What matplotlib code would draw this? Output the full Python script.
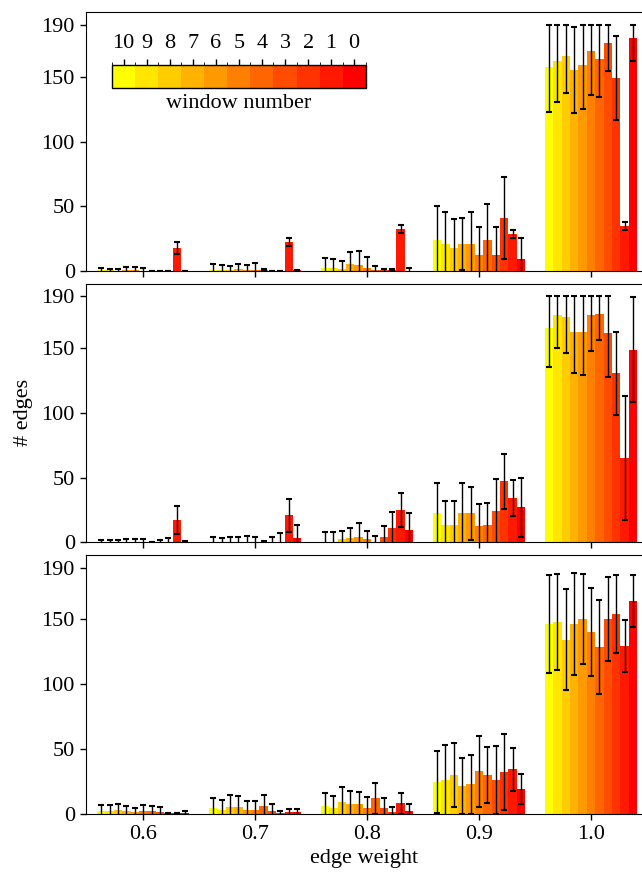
import numpy as np
import matplotlib
matplotlib.use("Agg")
import matplotlib.pyplot as plt
from matplotlib.colors import ListedColormap, BoundaryNorm
from matplotlib.cm import ScalarMappable

plt.rcParams['font.family'] = ['Liberation Serif', 'DejaVu Serif']
plt.rcParams['font.size'] = 16

# edge weight bins and windows (left to right in each group: window 10 ... 0)
bins = [0.6, 0.7, 0.8, 0.9, 1.0]
windows = [10, 9, 8, 7, 6, 5, 4, 3, 2, 1, 0]
err_max = 190

# top panel: mean number of edges per bin and window, plus spread
top_counts = [
    [0.5, 0.5, 0.3, 0.8, 0.5, 0.3, 0.1, 0.1, 0.1, 17.8, 0.1],
    [0.8, 1.0, 1.0, 1.3, 1.0, 1.0, 1.0, 0.2, 0.2, 22.4, 0.5],
    [2.0, 2.0, 1.5, 5.4, 4.6, 2.3, 1.0, 0.5, 0.5, 32.5, 0.3],
    [24.0, 20.9, 17.8, 20.9, 20.9, 12.4, 24.0, 12.4, 41.0, 28.6, 9.3],
    [158.0, 162.4, 166.2, 155.4, 159.5, 170.0, 164.2, 176.3, 149.2, 34.8, 180.2],
]
top_std = [
    [2.1, 1.3, 1.5, 2.6, 2.6, 2.3, 0.3, 0.3, 0.3, 4.6, 0.3],
    [4.9, 3.9, 2.6, 4.4, 3.9, 5.4, 0.5, 0.2, 0.2, 3.0, 0.5],
    [8.3, 7.5, 6.0, 9.3, 10.9, 8.3, 3.1, 1.0, 0.8, 2.9, 2.3],
    [26.3, 24.7, 22.1, 20.3, 24.7, 21.9, 27.8, 21.9, 32.0, 3.2, 16.0],
    [34.8, 31.5, 28.3, 33.0, 34.0, 33.7, 29.4, 21.9, 32.3, 3.2, 18.1],
]

# middle panel
mid_counts = [
    [0.3, 0.3, 0.3, 0.3, 0.3, 0.3, 0.2, 0.3, 0.5, 17.0, 0.3],
    [0.3, 0.3, 0.3, 0.3, 0.3, 0.3, 0.3, 0.3, 0.5, 20.8, 3.6],
    [0.5, 0.5, 2.3, 3.1, 3.9, 2.3, 0.5, 3.9, 10.8, 24.7, 9.3],
    [22.4, 13.1, 13.1, 22.4, 22.4, 12.4, 13.1, 24.2, 47.1, 34.0, 27.0],
    [165.3, 175.3, 174.5, 162.9, 162.2, 175.3, 176.1, 161.4, 130.5, 64.9, 149.0],
]
mid_std = [
    [1.2, 1.2, 1.7, 2.3, 2.3, 2.0, 0.1, 1.2, 2.8, 10.8, 1.0],
    [3.6, 2.8, 3.8, 4.1, 4.3, 3.8, 0.7, 3.6, 6.7, 12.6, 9.8],
    [7.5, 7.2, 6.5, 7.7, 11.3, 6.7, 4.4, 8.7, 12.6, 13.1, 13.6],
    [23.4, 18.8, 19.1, 23.7, 20.6, 17.2, 17.5, 24.7, 21.5, 13.9, 22.9],
    [29.7, 25.5, 28.3, 32.1, 33.2, 27.8, 20.1, 33.7, 32.0, 47.8, 40.9],
]

# bottom panel
bot_counts = [
    [1.8, 1.8, 2.6, 1.8, 1.0, 1.8, 1.8, 1.0, 0.5, 0.5, 0.5],
    [4.1, 2.6, 4.9, 4.9, 2.6, 2.6, 5.7, 1.8, 0.2, 1.0, 1.0],
    [5.7, 4.1, 8.8, 7.2, 7.2, 4.1, 11.9, 4.1, 1.0, 8.0, 1.8],
    [24.3, 25.8, 29.7, 21.2, 22.7, 32.8, 29.7, 25.8, 32.0, 34.3, 18.8],
    [146.6, 148.1, 134.2, 146.6, 150.5, 140.4, 128.8, 150.5, 154.3, 129.5, 164.4],
]
bot_std = [
    [4.7, 4.7, 4.9, 3.9, 3.4, 4.7, 3.9, 3.9, 0.3, 0.3, 1.3],
    [8.0, 7.7, 9.3, 8.8, 7.5, 7.2, 9.0, 5.7, 1.9, 2.6, 2.6],
    [10.6, 9.3, 11.8, 10.1, 9.6, 8.5, 12.1, 8.0, 4.4, 8.3, 5.7],
    [24.0, 27.4, 24.5, 21.6, 22.7, 27.3, 21.7, 26.1, 29.2, 16.5, 11.7],
    [37.6, 37.4, 39.0, 39.2, 35.0, 34.0, 36.5, 32.2, 30.1, 20.4, 19.9],
]

panels = [(top_counts, top_std), (mid_counts, mid_std), (bot_counts, bot_std)]

width = 0.0075
colors = [plt.cm.autumn(w / 10.0) for w in windows]

fig, axes = plt.subplots(3, 1, figsize=(6.42, 8.73), dpi=100, sharex=True)
fig.subplots_adjust(left=0.134, right=1.0, bottom=0.068, top=0.986, hspace=0.048)

for ax, (counts, stds) in zip(axes, panels):
    for g, center in enumerate(bins):
        for i, w in enumerate(windows):
            x = center + (i - 5) * width
            v = counts[g][i]
            s = stds[g][i]
            ax.bar(x, v, width=width, color=colors[i], linewidth=0, zorder=2)
            # whiskers stop at the maximum possible number of edges
            upper = min(v + s, err_max) - v
            ax.errorbar(x, v, yerr=[[s], [upper]], fmt='none', ecolor='k',
                        elinewidth=1.0, capsize=2, capthick=1.5, zorder=3)
    ax.set_ylim(0, 200)
    ax.set_yticks([0, 50, 100, 150, 190])
    ax.set_xlim(0.549, 1.0455)
    ax.tick_params(direction='out', length=4.5, width=1)
    ax.spines['right'].set_visible(False)

axes[2].set_xticks(bins)
axes[2].set_xticklabels(['%.1f' % b for b in bins])
axes[2].set_xlabel('edge weight', labelpad=4)
axes[1].set_ylabel('# edges', labelpad=6)

# discrete colour bar for the window number
cax = axes[0].inset_axes([0.047, 0.709, 0.456, 0.089])
cmap = ListedColormap(colors)
norm = BoundaryNorm(np.arange(-0.5, 11.5, 1), cmap.N)
cb = fig.colorbar(ScalarMappable(norm=norm, cmap=cmap), cax=cax,
                  orientation='horizontal')
cb.set_ticks(range(11))
cb.set_ticklabels([str(w) for w in windows])
cb.outline.set_linewidth(1.0)
cax.xaxis.set_ticks_position('top')
cax.tick_params(length=4, width=1, pad=4)
cb.set_label('window number', labelpad=5)
cax.xaxis.set_label_position('bottom')

fig.savefig('out.png', dpi=100)
